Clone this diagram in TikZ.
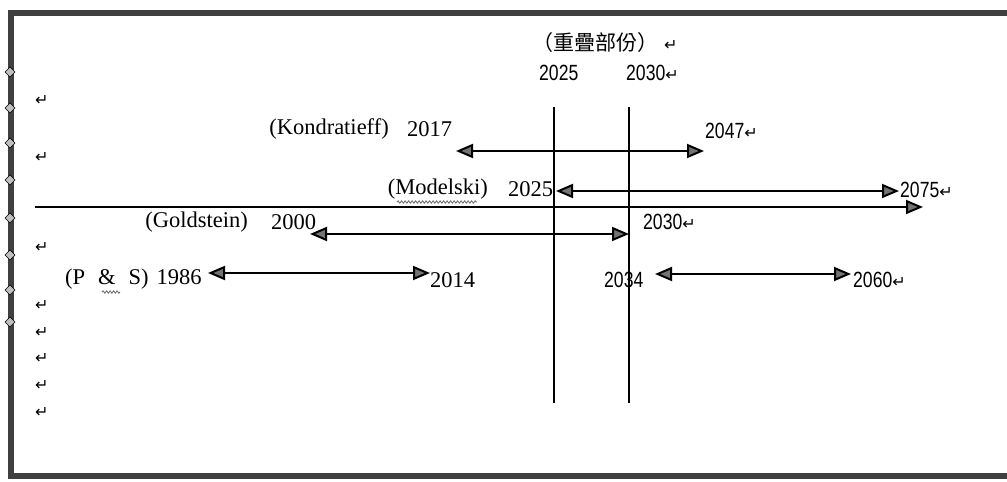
\documentclass[tikz,border=0pt]{standalone}
\usepackage{fontspec}
\setmainfont{Liberation Serif}
\newfontfamily\narrowfont{Liberation Sans}
\newfontfamily\cjk{Noto Sans CJK TC}
\newfontfamily\symfont{DejaVu Sans}
\usetikzlibrary{arrows.meta,decorations.pathmorphing}
\newcommand{\ret}{{\symfont\fontsize{16}{17}\selectfont ↵}}
\newcommand{\nar}[1]{\scalebox{0.8}[1]{\narrowfont #1}}
\tikzset{
  lbl/.style={inner sep=0pt, anchor=west, font=\fontsize{22.5}{26}\selectfont},
  nlbl/.style={inner sep=0pt, anchor=west, font=\fontsize{22}{26}\selectfont},
  retm/.style={inner sep=0pt, anchor=west},
  arr/.style={line width=2pt, {Triangle[length=17pt,width=14pt,fill=black!55]}-{Triangle[length=17pt,width=14pt,fill=black!55]}},
  axisarr/.style={line width=2pt, -{Triangle[length=17pt,width=14pt,fill=black!55]}},
  vline/.style={line width=1.3pt},
  wavy/.style={black!60, line width=0.8pt, decorate, decoration={snake, amplitude=1.2pt, segment length=3.5pt}},
  bordermark/.style={fill=gray!50, draw=black, line width=0.5pt}
}
\begin{document}
\begin{tikzpicture}[x=1pt,y=-1pt]
\useasboundingbox (0,0) rectangle (1007,482);
% frame
\draw[line width=6.5pt, black!75] (11,13) rectangle (1030,476);
\foreach \yy in {72,108,143,180,218,255,290,322} {
  \draw[bordermark] (5,\yy) -- (10,\yy-5) -- (15,\yy) -- (10,\yy+5) -- cycle;
}
% title
\node[inner sep=0pt, anchor=west] (title) at (532,43) {{\cjk\fontsize{21}{24}\selectfont （重疊部份）}\hspace{6pt}\ret};
\node[nlbl] (t2025) at (539,73) {\nar{2025}};
\node[nlbl] (t2030) at (626,73) {\nar{2030}\ret};
% vertical lines
\coordinate (v1t) at (554,107); \coordinate (v1b) at (554,403);
\coordinate (v2t) at (629,107); \coordinate (v2b) at (629,403);
\draw[vline] (v1t) -- (v1b);
\draw[vline] (v2t) -- (v2b);
% return marks
\foreach \yy [count=\i] in {100,157,247,305,332,358,385,412} {
  \node[retm] (r\i) at (35,\yy) {\ret};
}
% Kondratieff
\node[lbl, anchor=east] (kon) at (389,129) {(Kondratieff)};
\node[lbl] (k1) at (407,129) {2017};
\coordinate (k1a) at (456,151); \coordinate (k2a) at (704,151);
\draw[arr] (k1a) -- (k2a);
\node[nlbl] (k2) at (705,131) {\nar{2047}\ret};
% Modelski
\node[lbl, anchor=east] (mod) at (488,189) {(Modelski)};
\draw[wavy] (397,202) -- (477,202);
\node[lbl] (m1) at (508,189) {2025};
\coordinate (m1a) at (556,191); \coordinate (m2a) at (899,191);
\draw[arr] (m1a) -- (m2a);
\node[nlbl] (m2) at (900,190) {\nar{2075}\ret};
% long axis
\coordinate (ax1) at (35,207); \coordinate (ax2) at (923,207);
\draw[axisarr] (ax1) -- (ax2);
% Goldstein
\node[lbl, anchor=east] (gol) at (248,222) {(Goldstein)};
\node[lbl] (g1) at (271,222) {2000};
\coordinate (g1a) at (310,234); \coordinate (g2a) at (629,234);
\draw[arr] (g1a) -- (g2a);
\node[nlbl] (g2) at (643,222) {\nar{2030}\ret};
% P & S
\node[lbl] (ps) at (65,279) {(P\hspace{13pt}\&\hspace{13pt}S)\hspace{8pt}1986};
\draw[wavy] (102,292) -- (120,292);
\coordinate (p1a) at (208,273); \coordinate (p2a) at (430,273);
\draw[arr] (p1a) -- (p2a);
\node[lbl] (p2) at (430,280) {2014};
% 2034 - 2060
\node[nlbl] (s1) at (604,280) {\nar{2034}};
\coordinate (s1a) at (655,274); \coordinate (s2a) at (851,274);
\draw[arr] (s1a) -- (s2a);
\node[nlbl] (s2) at (853,280) {\nar{2060}\ret};
\end{tikzpicture}
\end{document}
